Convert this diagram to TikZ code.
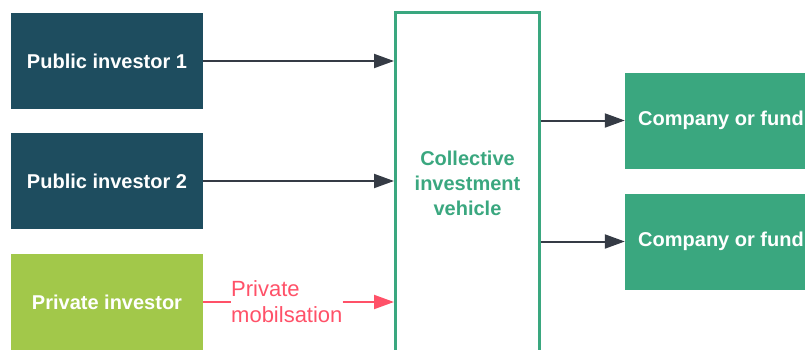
\documentclass[tikz,border=0pt]{standalone}
\usepackage{fontspec}
\setmainfont{Liberation Sans}
\usetikzlibrary{arrows.meta}
\definecolor{pubblue}{HTML}{1E4D5F}
\definecolor{privgreen}{HTML}{A2C84A}
\definecolor{fundgreen}{HTML}{3AA77F}
\definecolor{mobred}{HTML}{FF5168}
\definecolor{arrowgrey}{HTML}{353B45}
\begin{document}
\begin{tikzpicture}[x=1pt,y=-1pt,
		box/.style={rectangle, minimum width=192pt, minimum height=96pt, inner sep=0pt, text=white, font=\bfseries\fontsize{20}{24}\selectfont},
		flow/.style={draw=arrowgrey, line width=2pt, -{Triangle[length=20pt,width=14pt]}}]
		\useasboundingbox (0,0) rectangle (805,349);
		\node [box, fill=pubblue] (P1) at (107,61) {Public investor 1};
		\node [box, fill=pubblue] (P2) at (107,181) {Public investor 2};
		\node [box, fill=privgreen] (PR) at (107,302) {Private investor};
		\node [draw=fundgreen, line width=3pt, minimum width=144pt, minimum height=341pt, inner sep=0pt, align=center, text=fundgreen, font=\bfseries\fontsize{20}{25}\selectfont] (CIV) at (467.5,183) {Collective\\investment\\vehicle};
		\node [box, fill=fundgreen] (F1) at (721,120.5) {Company or fund};
		\node [box, fill=fundgreen] (F2) at (721,241.5) {Company or fund};
		\node [anchor=west, inner sep=0pt, align=left, text=mobred, font=\fontsize{22}{26}\selectfont] (M) at (231,302) {Private\\mobilsation};
		\draw [flow] (P1.east) -- (CIV.west |- P1.east);
		\draw [flow] (P2.east) -- (CIV.west |- P2.east);
		\draw [flow] (CIV.east |- F1.west) -- (F1.west);
		\draw [flow] (CIV.east |- F2.west) -- (F2.west);
		\draw [mobred, line width=2pt] (PR.east) -- (M.west);
		\draw [flow, draw=mobred, fill=mobred] (M.east) -- (CIV.west |- PR.east);
\end{tikzpicture}
\end{document}
